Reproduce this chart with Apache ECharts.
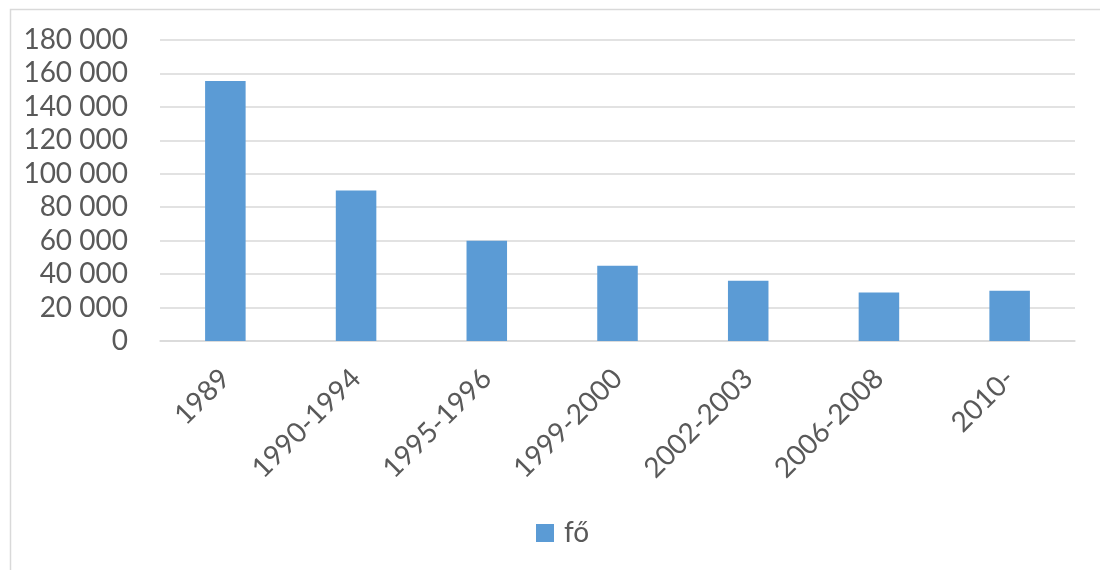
<!DOCTYPE html>
<html>
<head>
<meta charset="utf-8">
<script src="https://cdn.jsdelivr.net/npm/echarts@6/dist/echarts.min.js"></script>
<style>html,body{margin:0;padding:0;background:#fff}#c{width:1100px;height:570px}</style>
</head>
<body>
<div id="c"></div>
<script>
const categories = ['1989', '1990-1994', '1995-1996', '1999-2000', '2002-2003', '2006-2008', '2010-'];
const seriesName = 'fő';
const values = [155500, 90000, 60000, 45000, 36000, 29000, 30000];
const yMin = 0, yMax = 180000, yInterval = 20000;

function fmt(v) {
  return String(v).replace(/\B(?=(\d{3})+(?!\d))/g, ' ');
}
const font = 'Lato';
const textColor = '#595959';
const chart = echarts.init(document.getElementById('c'));
chart.setOption({
  animation: false,
  backgroundColor: '#fff',
  graphic: [{
    type: 'rect', left: 8, top: 7, shape: { width: 1200, height: 700 },
    style: { fill: 'none', stroke: '#d9d9d9', lineWidth: 1.5 }, silent: true, z: -1
  }],
  grid: { left: 160, right: 25, top: 40, bottom: 229, containLabel: false },
  legend: {
    top: 514, left: 531, itemWidth: 18, itemHeight: 18, itemGap: 10,
    icon: 'rect',
    textStyle: { fontFamily: font, fontSize: 28, color: textColor, padding: [0, 0, 0, 5] },
    data: [seriesName]
  },
  xAxis: {
    type: 'category', data: categories,
    axisLine: { show: true, lineStyle: { color: '#d9d9d9', width: 1.5 } },
    axisTick: { show: false },
    axisLabel: { rotate: 45, margin: 33, fontFamily: font, fontSize: 28, color: textColor, interval: 0 }
  },
  yAxis: {
    type: 'value', min: yMin, max: yMax, interval: yInterval,
    axisLine: { show: false }, axisTick: { show: false },
    splitLine: { lineStyle: { color: '#d9d9d9', width: 1.5 } },
    axisLabel: { formatter: fmt, margin: 32, fontFamily: font, fontSize: 28, color: textColor }
  },
  series: [{
    type: 'bar', name: seriesName, data: values,
    barWidth: '31%',
    itemStyle: { color: '#5b9bd5' }
  }]
});
</script>
</body>
</html>
